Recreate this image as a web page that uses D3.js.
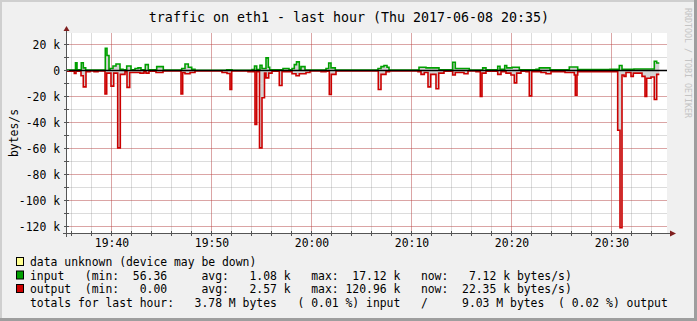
<!DOCTYPE html>
<html lang="en">
<head>
<meta charset="UTF-8">
<title>traffic on eth1 - last hour</title>
<style>
  html, body { margin: 0; padding: 0; background: #f0f0f0; }
  svg { display: block; font-family: "DejaVu Sans Mono", monospace; }
  .pre { white-space: pre; }
</style>
</head>
<body>
<svg id="chart" width="697" height="321"></svg>
<script src="https://cdn.jsdelivr.net/npm/d3@7"></script>
<script>
// time = minutes after 19:00, value = k bytes/s, each value holds until the next step
const inputSteps = [
  [35.55,0.4],[36.40,6.0],[36.55,0.5],[36.98,6.0],[37.18,2.0],[37.42,0.3],[39.38,17.1],[39.55,11.5],
  [39.75,0.5],[39.85,1.5],[40.15,3.5],[40.45,5.0],[40.85,1.0],[41.15,0.5],[41.52,3.5],[41.95,0.5],
  [42.35,1.5],[42.65,2.0],[42.95,0.5],[43.38,4.5],[43.68,0.5],[44.52,3.0],[45.18,0.3],[47.02,1.5],
  [47.35,5.0],[47.68,2.5],[48.02,1.0],[48.35,0.2],[51.52,0.5],[52.05,0.2],[54.05,0.8],[54.30,3.5],
  [54.52,0.8],[54.85,4.0],[55.05,1.5],[55.45,9.7],[55.68,2.5],[55.82,0.5],[57.15,1.5],[57.75,0.5],
  [58.05,1.5],[58.28,4.5],[58.50,6.6],[58.78,1.0],[58.95,3.0],[59.35,0.3],[61.45,1.5],[61.72,5.8],
  [61.95,2.0],[62.38,0.3],[66.65,1.5],[66.95,3.0],[67.25,3.8],[67.55,2.5],[67.75,0.3],[70.75,2.5],
  [71.45,2.0],[72.75,0.5],[74.12,6.4],[74.38,1.5],[75.78,0.3],[77.12,2.0],[77.45,0.5],[78.62,3.3],
  [78.85,1.0],[79.32,3.8],[79.52,2.0],[80.05,2.5],[80.78,0.5],[82.45,1.0],[82.78,2.0],[83.85,0.5],
  [85.78,2.7],[86.62,0.8],[89.85,1.0],[90.78,3.8],[91.05,1.0],[92.25,1.2],[94.28,7.1],[94.52,5.8],
  [94.78,5.8]
];
const outputSteps = [
  [35.55,0.5],[36.28,2.3],[36.45,0.5],[36.95,4.0],[37.18,12.6],[37.45,1.0],[37.85,0.3],[38.25,1.0],
  [38.65,0.3],[39.35,18.0],[39.52,2.0],[39.95,12.0],[40.22,2.0],[40.62,59.5],[40.88,3.0],[41.35,1.0],
  [41.55,13.0],[41.82,1.5],[42.85,2.0],[43.25,1.0],[43.45,2.0],[43.75,0.5],[44.45,1.5],[45.15,0.3],
  [46.95,18.0],[47.12,1.5],[47.35,2.5],[47.85,1.5],[48.35,0.3],[51.05,1.5],[51.55,2.3],[51.85,14.6],
  [52.02,0.3],[53.65,1.0],[54.35,41.5],[54.52,1.0],[54.80,59.5],[55.05,21.0],[55.30,2.0],[55.45,5.7],
  [55.72,2.0],[56.05,0.5],[56.78,11.5],[57.05,1.0],[58.05,2.5],[58.45,4.0],[58.78,2.5],[59.45,1.5],
  [59.85,0.3],[60.95,1.0],[61.45,0.5],[61.78,18.5],[61.98,3.0],[62.45,0.3],[66.68,14.6],[66.95,3.0],
  [67.45,1.0],[67.80,0.3],[70.65,1.0],[70.95,3.0],[71.28,1.5],[71.65,12.6],[71.92,3.0],[72.45,14.0],
  [72.72,2.0],[73.25,0.5],[74.12,3.5],[74.38,1.5],[75.25,2.5],[75.65,0.3],[76.45,1.0],[76.88,20.0],
  [77.05,2.0],[77.45,0.5],[78.62,3.0],[78.95,1.0],[79.45,2.0],[79.95,3.5],[80.28,9.5],[80.52,2.0],
  [80.95,0.5],[81.45,1.0],[81.78,19.5],[82.02,1.0],[82.95,1.5],[83.45,2.5],[83.95,1.0],[85.35,1.5],
  [86.28,3.5],[86.38,19.0],[86.55,3.5],[86.62,1.0],[90.62,46.0],[90.85,121.0],[91.05,3.5],[91.25,4.5],
  [91.45,1.5],[91.95,4.5],[92.18,2.0],[93.05,4.5],[93.35,20.0],[93.52,6.0],[93.95,5.0],[94.28,22.35],
  [94.52,3.0],[94.78,3.0]
];
const yTicks = [20, 0, -20, -40, -60, -80, -100, -120];
const yMinor = [20, 10, 0, -10, -20, -30, -40, -50, -60, -70, -80, -90, -100, -110, -120];

const title = "traffic on eth1 - last hour (Thu 2017-06-08 20:35)";
const legendColors = ["#ffff90", "#00a000", "#cc0000", null];
const legendLines = [
  "data unknown (device may be down)",
  "input   (min:  56.36     avg:   1.08 k   max:  17.12 k   now:   7.12 k bytes/s)",
  "output  (min:   0.00     avg:   2.57 k   max: 120.96 k   now:  22.35 k bytes/s)",
  "totals for last hour:   3.78 M bytes   ( 0.01 %) input   /     9.03 M bytes  ( 0.02 %) output"
];

const svg = d3.select("#chart");
const W = 697, H = 321;
const plot = { left: 67, top: 33, width: 600, height: 200 };

const base = new Date(2017, 5, 8, 19, 0, 0);
const toDate = m => new Date(base.getTime() + m * 60000);

const x = d3.scaleTime()
  .domain([toDate(35.55), toDate(95.55)])
  .range([plot.left, plot.left + plot.width]);
const y = d3.scaleLinear()
  .domain([-125, 28.85])
  .range([plot.top + plot.height, plot.top]);

// background and frame shading
svg.append("rect").attr("width", W).attr("height", H).attr("fill", "#f0f0f0");
svg.append("rect").attr("x", 0).attr("y", 0).attr("width", W).attr("height", 2).attr("fill", "#cfcfcf");
svg.append("rect").attr("x", 0).attr("y", 0).attr("width", 2).attr("height", H).attr("fill", "#cfcfcf");
svg.append("rect").attr("x", W - 3).attr("y", 0).attr("width", 3).attr("height", H).attr("fill", "#9e9e9e");
svg.append("rect").attr("x", 0).attr("y", H - 3).attr("width", W).attr("height", 3).attr("fill", "#9e9e9e");

// canvas
svg.append("rect")
  .attr("x", plot.left).attr("y", plot.top)
  .attr("width", plot.width).attr("height", plot.height)
  .attr("fill", "#ffffff");

// grid
const minorTimes = x.ticks(d3.timeMinute.every(2));
const majorTimes = x.ticks(d3.timeMinute.every(10));
const grid = svg.append("g").attr("shape-rendering", "crispEdges");
grid.selectAll(".vminor").data(minorTimes).join("line")
  .attr("x1", d => x(d)).attr("x2", d => x(d))
  .attr("y1", plot.top).attr("y2", plot.top + plot.height)
  .attr("stroke", "rgba(140,140,140,0.3)");
grid.selectAll(".hminor").data(yMinor).join("line")
  .attr("x1", plot.left).attr("x2", plot.left + plot.width)
  .attr("y1", d => y(d)).attr("y2", d => y(d))
  .attr("stroke", "rgba(140,140,140,0.3)");
grid.selectAll(".vmajor").data(majorTimes).join("line")
  .attr("x1", d => x(d)).attr("x2", d => x(d))
  .attr("y1", plot.top).attr("y2", plot.top + plot.height)
  .attr("stroke", "rgba(220,40,40,0.3)");
grid.selectAll(".hmajor").data(yTicks).join("line")
  .attr("x1", plot.left).attr("x2", plot.left + plot.width)
  .attr("y1", d => y(d)).attr("y2", d => y(d))
  .attr("stroke", "rgba(220,40,40,0.3)");

// series
const inputData = inputSteps.map(d => ({ t: toDate(d[0]), v: d[1] }));
const outputData = outputSteps.map(d => ({ t: toDate(d[0]), v: -d[1] }));

const area = d3.area().curve(d3.curveStepAfter)
  .x(d => x(d.t)).y0(y(0)).y1(d => y(d.v));
const line = d3.line().curve(d3.curveStepAfter)
  .x(d => x(d.t)).y(d => y(d.v));

svg.append("path").datum(inputData).attr("d", area).attr("fill", "#d4d4d4");
svg.append("path").datum(outputData).attr("d", area).attr("fill", "#d4d4d4");
svg.append("path").datum(inputData).attr("d", line)
  .attr("fill", "none").attr("stroke", "#00a000").attr("stroke-width", 1.6);
svg.append("path").datum(outputData).attr("d", line)
  .attr("fill", "none").attr("stroke", "#cc0000").attr("stroke-width", 1.6);

// zero rule
svg.append("line")
  .attr("x1", plot.left).attr("x2", plot.left + plot.width)
  .attr("y1", y(0)).attr("y2", y(0))
  .attr("stroke", "#000").attr("stroke-width", 1.6);

// axes
const axisColor = "#555";
const yAxis = d3.axisLeft(y).tickValues(yTicks).tickSize(0).tickPadding(7)
  .tickFormat(d => d === 0 ? "0" : d + " k");
const gy = svg.append("g").attr("transform", `translate(${plot.left},0)`).call(yAxis);
gy.select(".domain").remove();
gy.selectAll("text").attr("font-family", "DejaVu Sans Mono").attr("font-size", 11.4).attr("fill", "#000");

const xAxis = d3.axisBottom(x).ticks(d3.timeMinute.every(10)).tickSize(0).tickPadding(6)
  .tickFormat(d3.timeFormat("%H:%M"));
const gx = svg.append("g").attr("transform", `translate(0,${plot.top + plot.height})`).call(xAxis);
gx.select(".domain").remove();
gx.selectAll("text").attr("font-family", "DejaVu Sans Mono").attr("font-size", 11.4).attr("fill", "#000");

const ticks = svg.append("g").attr("shape-rendering", "crispEdges").attr("stroke", axisColor);
ticks.selectAll(".xt").data(minorTimes).join("line")
  .attr("x1", d => x(d)).attr("x2", d => x(d))
  .attr("y1", plot.top + plot.height - 2).attr("y2", plot.top + plot.height + 3);
ticks.selectAll(".yt").data(yMinor).join("line")
  .attr("x1", plot.left - 3).attr("x2", plot.left + 2)
  .attr("y1", d => y(d)).attr("y2", d => y(d));

svg.append("line").attr("shape-rendering", "crispEdges")
  .attr("x1", plot.left - 4).attr("x2", plot.left + plot.width + 5)
  .attr("y1", plot.top + plot.height + 0.5).attr("y2", plot.top + plot.height + 0.5)
  .attr("stroke", axisColor);
svg.append("line").attr("shape-rendering", "crispEdges")
  .attr("x1", plot.left - 0.5).attr("x2", plot.left - 0.5)
  .attr("y1", plot.top + plot.height + 4).attr("y2", plot.top - 4)
  .attr("stroke", axisColor);

// arrows
svg.append("path")
  .attr("d", `M${plot.left - 3.5},${plot.top - 2} L${plot.left + 2.5},${plot.top - 2} L${plot.left - 0.5},${plot.top - 7} Z`)
  .attr("fill", "#7f1f1f");
svg.append("path")
  .attr("d", `M${plot.left + plot.width + 3},${plot.top + plot.height - 2.5} L${plot.left + plot.width + 3},${plot.top + plot.height + 3.5} L${plot.left + plot.width + 9},${plot.top + plot.height + 0.5} Z`)
  .attr("fill", "#7f1f1f");

// title and labels
svg.append("text").attr("x", 349).attr("y", 22).attr("text-anchor", "middle")
  .attr("font-size", 13.3).text(title);
svg.append("text").attr("transform", "translate(18,133) rotate(-90)")
  .attr("text-anchor", "middle").attr("font-size", 11.4).text("bytes/s");
svg.append("text").attr("transform", "translate(685,8) rotate(90)")
  .attr("font-size", 8.3).attr("fill", "#c4c4c4").text("RRDTOOL / TOBI OETIKER");

// legend
const rowY = [262, 275.5, 289, 303];
legendLines.forEach((s, i) => {
  if (legendColors[i]) {
    svg.append("rect").attr("x", 16.5).attr("y", rowY[i] - 4.5).attr("width", 7).attr("height", 8)
      .attr("fill", legendColors[i]).attr("stroke", "#000").attr("stroke-width", 1);
  }
  svg.append("text").attr("class", "pre").attr("x", 30).attr("y", rowY[i] + 4)
    .attr("font-size", 11.4).text(s);
});
</script>
</body>
</html>
